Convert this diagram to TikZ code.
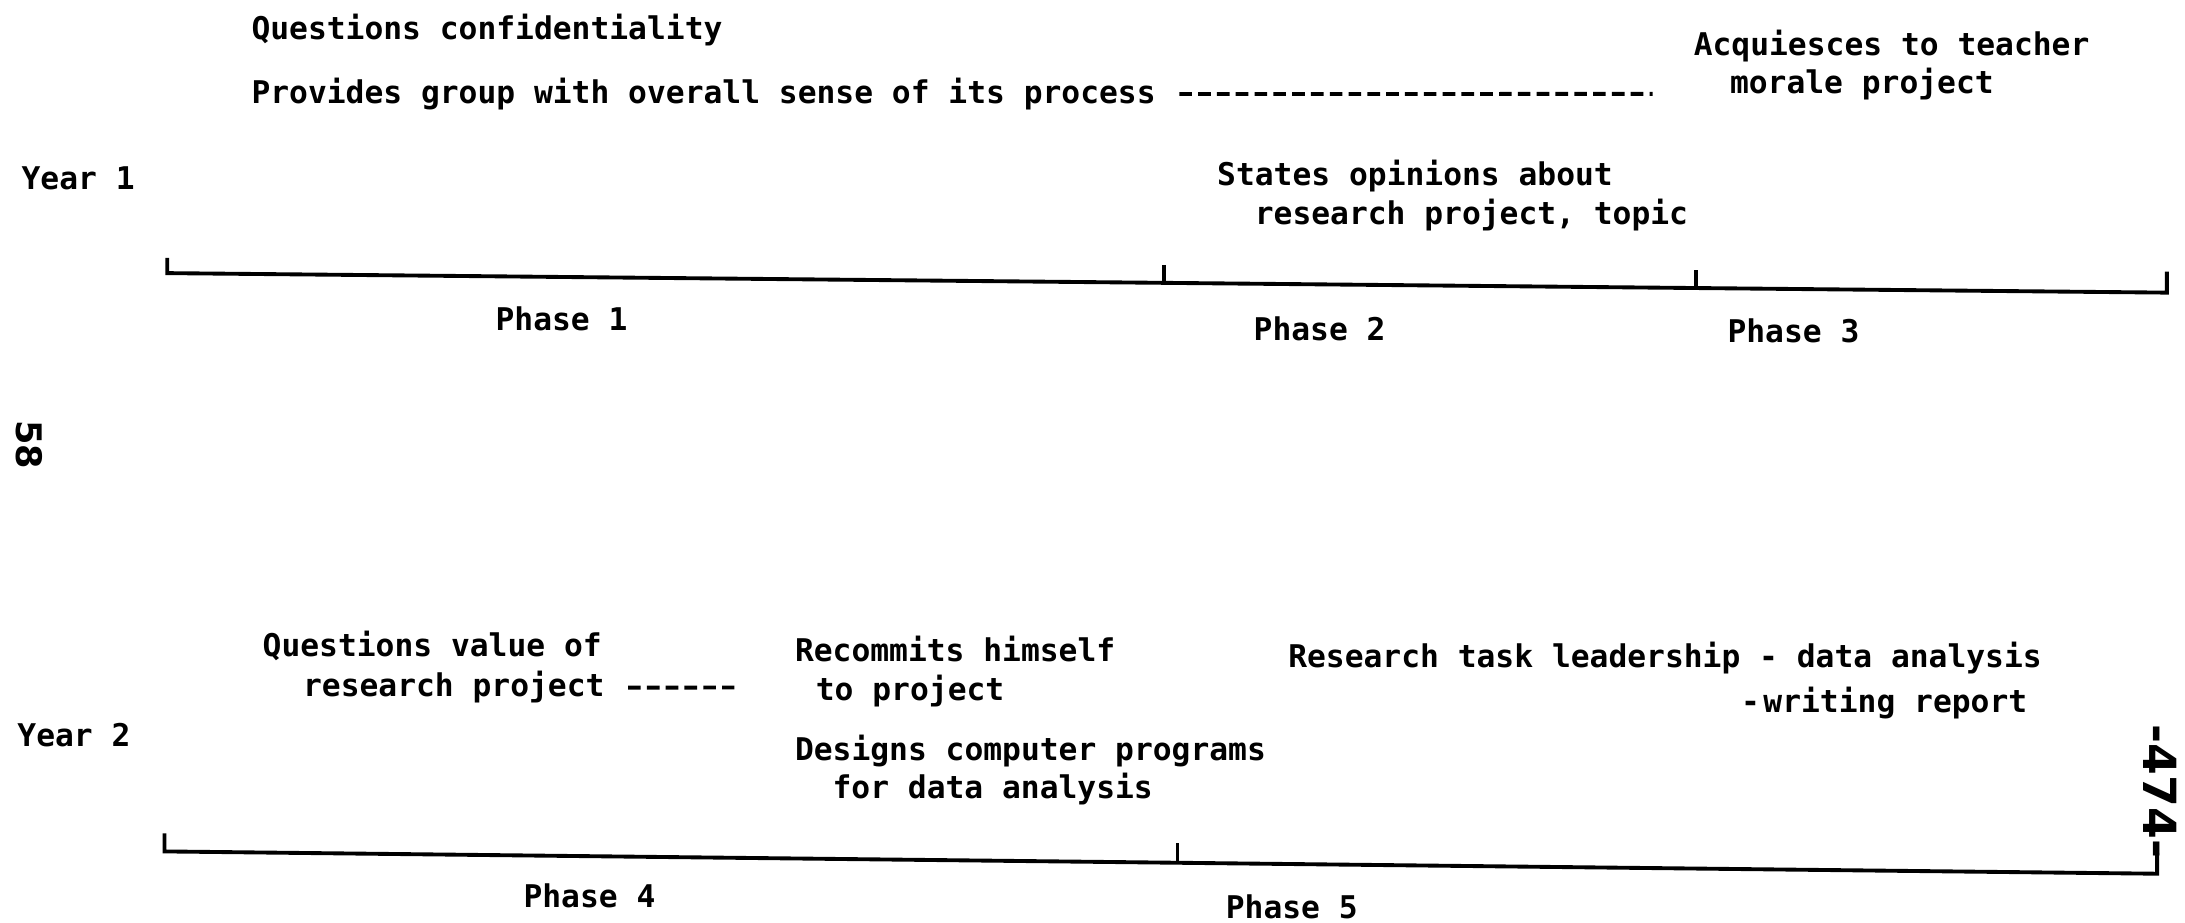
\documentclass[tikz,border=0pt]{standalone}
\usepackage{fontspec}
\newfontfamily\typefont{DejaVu Sans Mono Bold}
\newfontfamily\handfont{DejaVu Sans Bold}
\begin{document}
\begin{tikzpicture}[x=0.013935cm, y=-0.013935cm,
  txt/.style={inner sep=0pt, anchor=base west, font=\typefont\fontsize{8.9}{10}\selectfont},
  ctr/.style={txt, anchor=base},
  axis/.style={line width=1.1pt, line join=miter},
  tick/.style={line width=1.1pt},
  leader/.style={line width=1.1pt, dash pattern=on 3.6pt off 1.75pt}]
\useasboundingbox (0,0) rectangle (1568,662);

% ---- Year 1 ----
\node[txt] (qconf) at (180,28) {Questions confidentiality};
\node[txt] (prov) at (180,74) {Provides group with overall sense of its process};
\coordinate (provend) at (1186,67.4);
\draw[leader] ([xshift=6.5pt,yshift=2.6pt]prov.base east) -- (provend);
\node[txt] (acq1) at (1215,40) {Acquiesces to teacher};
\node[txt] (acq2) at (1241,67) {morale project};
\node[txt] (year1) at (15,136) {Year 1};
\node[txt] (st1) at (873,133) {States opinions about};
\node[txt] (st2) at (900,161) {research project, topic};

\coordinate (a1) at (120,185);
\coordinate (a2) at (120,196);
\coordinate (a3) at (1555,210);
\coordinate (a4) at (1555,195);
\draw[axis] (a1) -- (a2) -- (a3) -- (a4);
\coordinate (t1a) at (835,190); \coordinate (t1b) at (835,203);
\coordinate (t2a) at (1217,194); \coordinate (t2b) at (1217,207);
\draw[tick] (t1a) -- (t1b);
\draw[tick] (t2a) -- (t2b);
\node[ctr] (ph1) at (403,237) {Phase 1};
\node[ctr] (ph2) at (947,244) {Phase 2};
\node[ctr] (ph3) at (1287,246) {Phase 3};

\node[inner sep=0pt, rotate=-90, font=\handfont\fontsize{10}{12}\selectfont] (pg) at (21,319) {58};

% ---- Year 2 ----
\node[txt] (qv1) at (188,471) {Questions value of};
\node[txt] (qv2) at (217,500) {research project};
\coordinate (qvend) at (527,493.4);
\draw[leader] ([xshift=6.5pt,yshift=2.6pt]qv2.base east) -- (qvend);
\node[txt] (rc1) at (570,475) {Recommits himself};
\node[txt] (rc2) at (585,503) {to project};
\node[txt] (year2) at (12,536) {Year 2};
\node[txt] (dc1) at (570,546) {Designs computer programs};
\node[txt] (dc2) at (597,573) {for data analysis};
\node[txt] (rt1) at (924,479) {Research task leadership - data analysis};
\node[txt] (rtd) at (1249,511) {-};
\node[txt] (rt2) at (1265,511) {writing report};

\coordinate (b1) at (118,598);
\coordinate (b2) at (118,611);
\coordinate (b3) at (1548,627);
\coordinate (b4) at (1548,612);
\draw[axis] (b1) -- (b2) -- (b3) -- (b4);
\coordinate (t3a) at (845,605); \coordinate (t3b) at (845,619);
\draw[tick] (t3a) -- (t3b);
\node[ctr] (ph4) at (423,651) {Phase 4};
\node[ctr] (ph5) at (927,659) {Phase 5};

\node[inner sep=0pt, rotate=-90, font=\handfont\fontsize{13}{15}\selectfont] (hp) at (1550,568) {-474-};
\end{tikzpicture}
\end{document}
